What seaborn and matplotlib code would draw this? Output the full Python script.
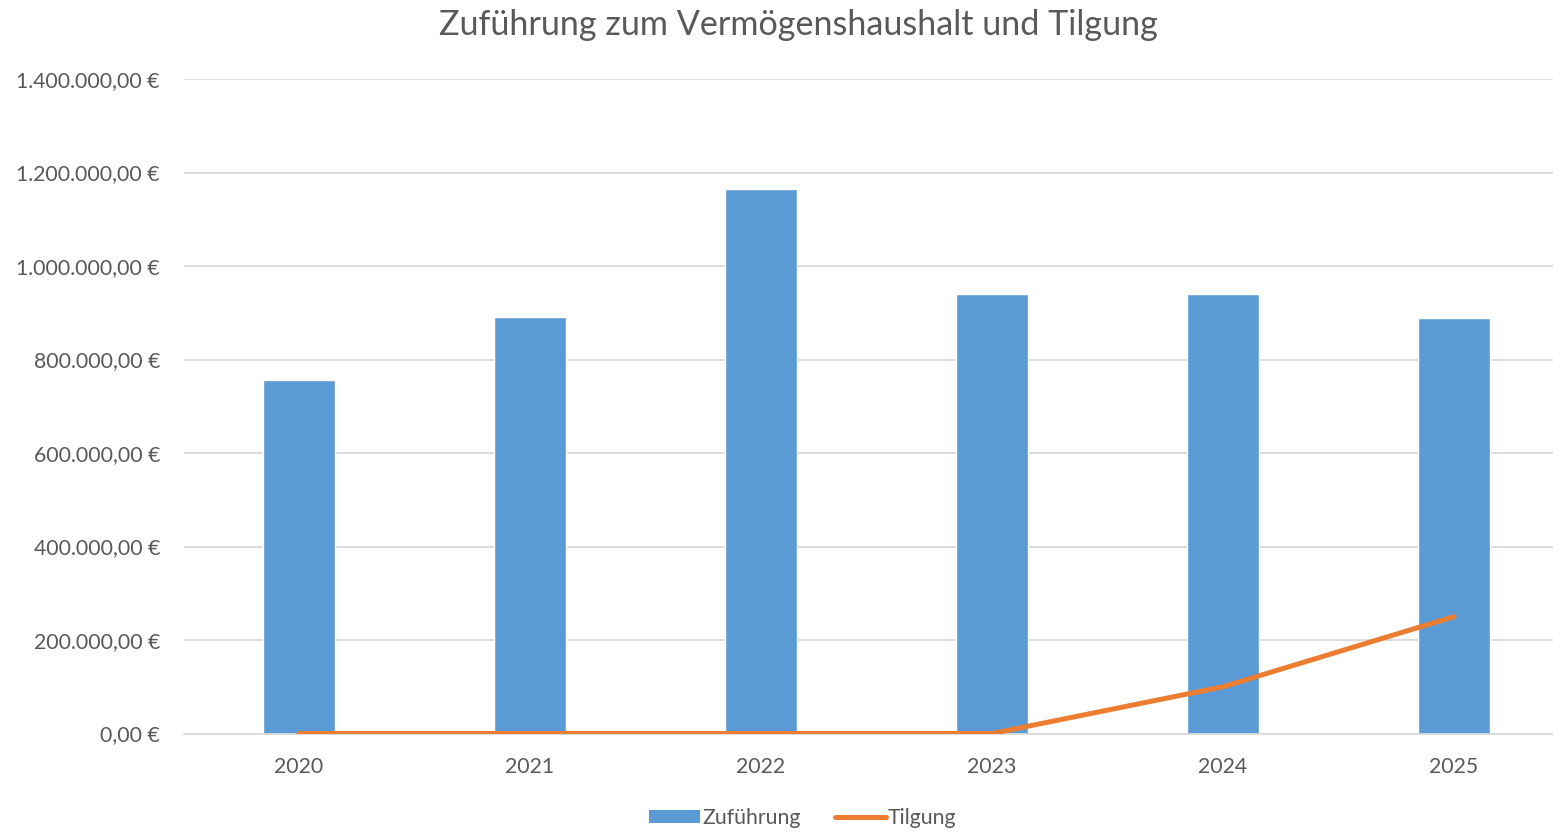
import pandas as pd
import numpy as np
import matplotlib.pyplot as plt
import seaborn as sns
from matplotlib.ticker import FuncFormatter, MultipleLocator
from matplotlib.patches import Patch
from matplotlib.lines import Line2D

# ---------------------------------
# Data
# ---------------------------------

years = ["2020", "2021", "2022", "2023", "2024", "2025"]
zufuehrung = [756000, 890000, 1165000, 940000, 940000, 888000]
tilgung = [0, 0, 0, 0, 100000, 250000]

df = pd.DataFrame({"Jahr": years, "Zuführung": zufuehrung, "Tilgung": tilgung})

BLUE = "#5B9BD5"
ORANGE = "#ED7D31"
GRID = "#D9D9D9"
TEXT = "#595959"

sns.set_theme(style="white")
plt.rcParams['font.family'] = ['Lato', 'DejaVu Sans']

W, H = 1553, 832
fig = plt.figure(figsize=(W / 100, H / 100), dpi=100)

# plot area in pixels
left, right, top, bottom = 183.5, 1553, 79, 733.5
ax = fig.add_axes([left / W, 1 - bottom / H, (right - left) / W, (bottom - top) / H])

sns.barplot(data=df, x="Jahr", y="Zuführung", color=BLUE, width=0.31,
            saturation=1, ax=ax, zorder=2)
sns.lineplot(x=np.arange(len(years)), y=df["Tilgung"], color=ORANGE, lw=3.6,
             solid_capstyle="round", ax=ax, zorder=3)

ax.set_xlim(-0.5, -0.5 + (right - left) / 231)
ax.set_ylim(0, 1400000)
ax.yaxis.set_major_locator(MultipleLocator(200000))


def euro(v, pos):
    s = f"{v:,.2f}".replace(",", "X").replace(".", ",").replace("X", ".")
    return s + " €"


ax.yaxis.set_major_formatter(FuncFormatter(euro))
ax.grid(axis="y", color=GRID, lw=1.3, zorder=0)
ax.set_axisbelow(True)
for side in ["top", "right", "left"]:
    ax.spines[side].set_visible(False)
ax.spines["bottom"].set_color(GRID)
ax.spines["bottom"].set_linewidth(1.3)

ax.tick_params(axis="y", length=0, pad=17, labelsize=15.3, labelcolor=TEXT)
ax.tick_params(axis="x", length=0, pad=17, labelsize=15.3, labelcolor=TEXT)
ax.set_xlabel("")
ax.set_ylabel("")

fig.text(798.5 / W, 1 - 25 / H, "Zuführung zum Vermögenshaushalt und Tilgung",
         ha="center", va="center", fontsize=24.6, color=TEXT)

handles = [Patch(facecolor=BLUE, edgecolor="none"),
           Line2D([0], [0], color=ORANGE, lw=3.6, solid_capstyle="round")]
fig.legend(handles, ["Zuführung", "Tilgung"], loc="center",
           bbox_to_anchor=(803 / W, 1 - 818 / H), ncol=2, frameon=False,
           fontsize=15.3, labelcolor=TEXT, handlelength=2.4, handleheight=0.55,
           handletextpad=0.1, columnspacing=1.6)

fig.savefig("out.png", dpi=100)
